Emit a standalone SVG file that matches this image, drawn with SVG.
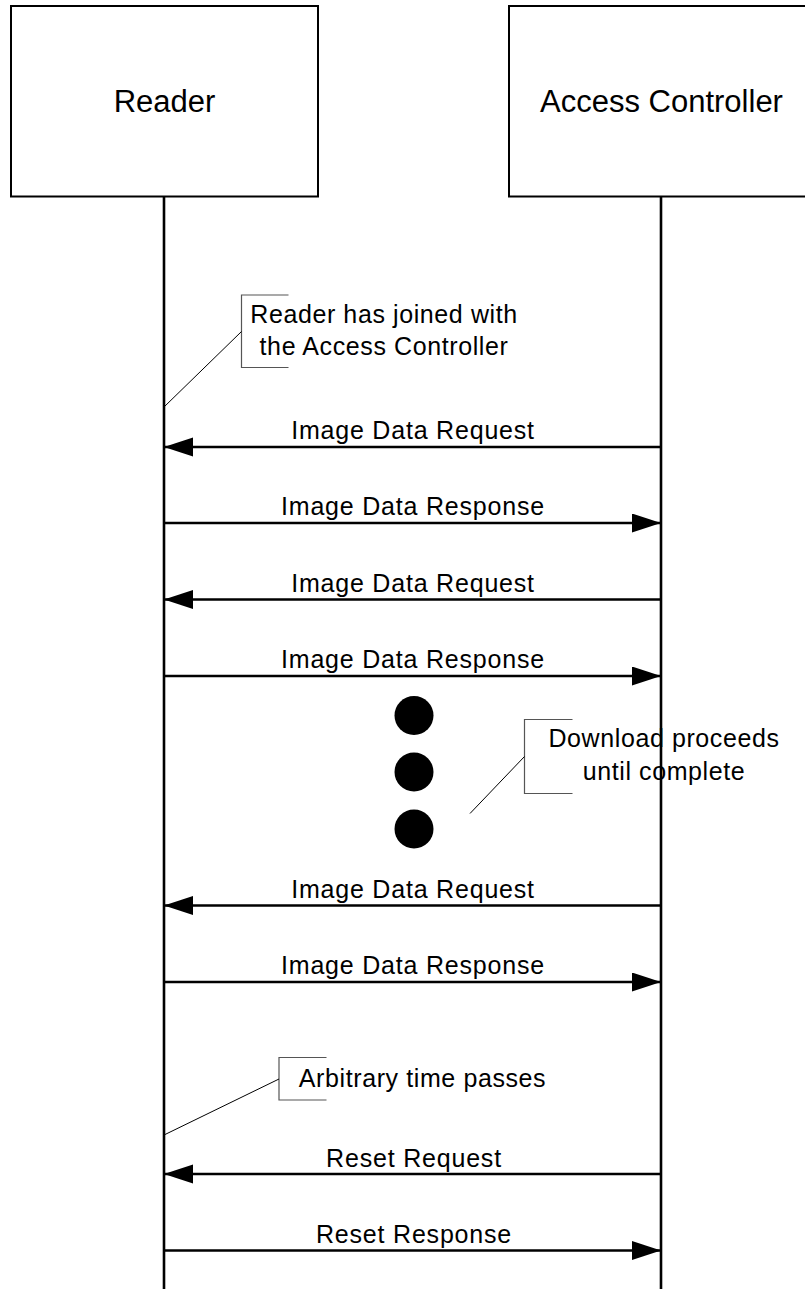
<svg xmlns="http://www.w3.org/2000/svg" width="805" height="1289" viewBox="0 0 805 1289">
<style>
.box{fill:#fff;stroke:#000;stroke-width:2}
.life{stroke:#000;stroke-width:2.6;fill:none}
.msg{stroke:#000;stroke-width:2.6;fill:none;marker-end:url(#ah)}
.title{font-family:"Liberation Sans",Arial,sans-serif;font-size:31px;fill:#000;text-anchor:middle}
.lbl{font-family:"Liberation Sans",Arial,sans-serif;font-size:25px;letter-spacing:0.8px;fill:#000;text-anchor:middle}
.note{font-family:"Liberation Sans",Arial,sans-serif;font-size:25px;letter-spacing:0.6px;fill:#000;text-anchor:middle}
.brk{fill:none;stroke:#555;stroke-width:1.2}
.lead{fill:none;stroke:#000;stroke-width:1}
.dot{fill:#000}
</style>
<defs>
<marker id="ah" markerUnits="userSpaceOnUse" markerWidth="30" markerHeight="20" refX="29" refY="9.5" orient="auto">
<path d="M0,0 L29,9.5 L0,19 z" fill="#000"/>
</marker>
</defs>
<rect width="805" height="1289" fill="#fff"/>
<g id="reader">
<rect class="box" x="11" y="6" width="307" height="190.5"/>
<text class="title" x="164.5" y="112">Reader</text>
</g>
<g id="access-controller">
<rect class="box" x="509" y="6" width="310" height="190.5"/>
<text class="title" x="661.5" y="112">Access Controller</text>
</g>
<g id="lifelines">
<line class="life" x1="164" y1="196" x2="164" y2="1289"/>
<line class="life" x1="661" y1="196" x2="661" y2="1289"/>
</g>
<g id="connectors">
<line class="msg" x1="661" y1="447" x2="164" y2="447"/>
<text class="lbl" x="413" y="439">Image Data Request</text>
<line class="msg" x1="164" y1="523" x2="661" y2="523"/>
<text class="lbl" x="413" y="515">Image Data Response</text>
<line class="msg" x1="661" y1="599.5" x2="164" y2="599.5"/>
<text class="lbl" x="413" y="591.5">Image Data Request</text>
<line class="msg" x1="164" y1="676" x2="661" y2="676"/>
<text class="lbl" x="413" y="667.5">Image Data Response</text>
<line class="msg" x1="661" y1="905.5" x2="164" y2="905.5"/>
<text class="lbl" x="413" y="897.5">Image Data Request</text>
<line class="msg" x1="164" y1="982" x2="661" y2="982"/>
<text class="lbl" x="413" y="973.5">Image Data Response</text>
<line class="msg" x1="661" y1="1174" x2="164" y2="1174"/>
<text class="lbl" x="414" y="1166.5">Reset Request</text>
<line class="msg" x1="164" y1="1250.5" x2="661" y2="1250.5"/>
<text class="lbl" x="414" y="1242.5">Reset Response</text>
</g>
<g id="note-joined">
<path class="brk" d="M288.5,295 H241.5 V367.5 H288.5"/>
<line class="lead" x1="241.5" y1="331.5" x2="164" y2="407"/>
<text class="note" x="384" y="323">Reader has joined with</text>
<text class="note" x="384" y="355">the Access Controller</text>
</g>
<g id="dots">
<circle class="dot" cx="414" cy="715.5" r="19.5"/>
<circle class="dot" cx="414" cy="772" r="19.5"/>
<circle class="dot" cx="414" cy="829" r="19.5"/>
</g>
<g id="note-download">
<path class="brk" d="M572.5,719.5 H524.5 V793.5 H572.5"/>
<line class="lead" x1="524.5" y1="756.5" x2="470" y2="813.5"/>
<text class="note" x="664" y="747">Download proceeds</text>
<text class="note" x="664" y="780">until complete</text>
</g>
<g id="note-time">
<path class="brk" d="M326.5,1057.5 H279 V1100 H326.5"/>
<line class="lead" x1="279" y1="1079" x2="164" y2="1135"/>
<text class="note" x="422.5" y="1087">Arbitrary time passes</text>
</g>
</svg>
